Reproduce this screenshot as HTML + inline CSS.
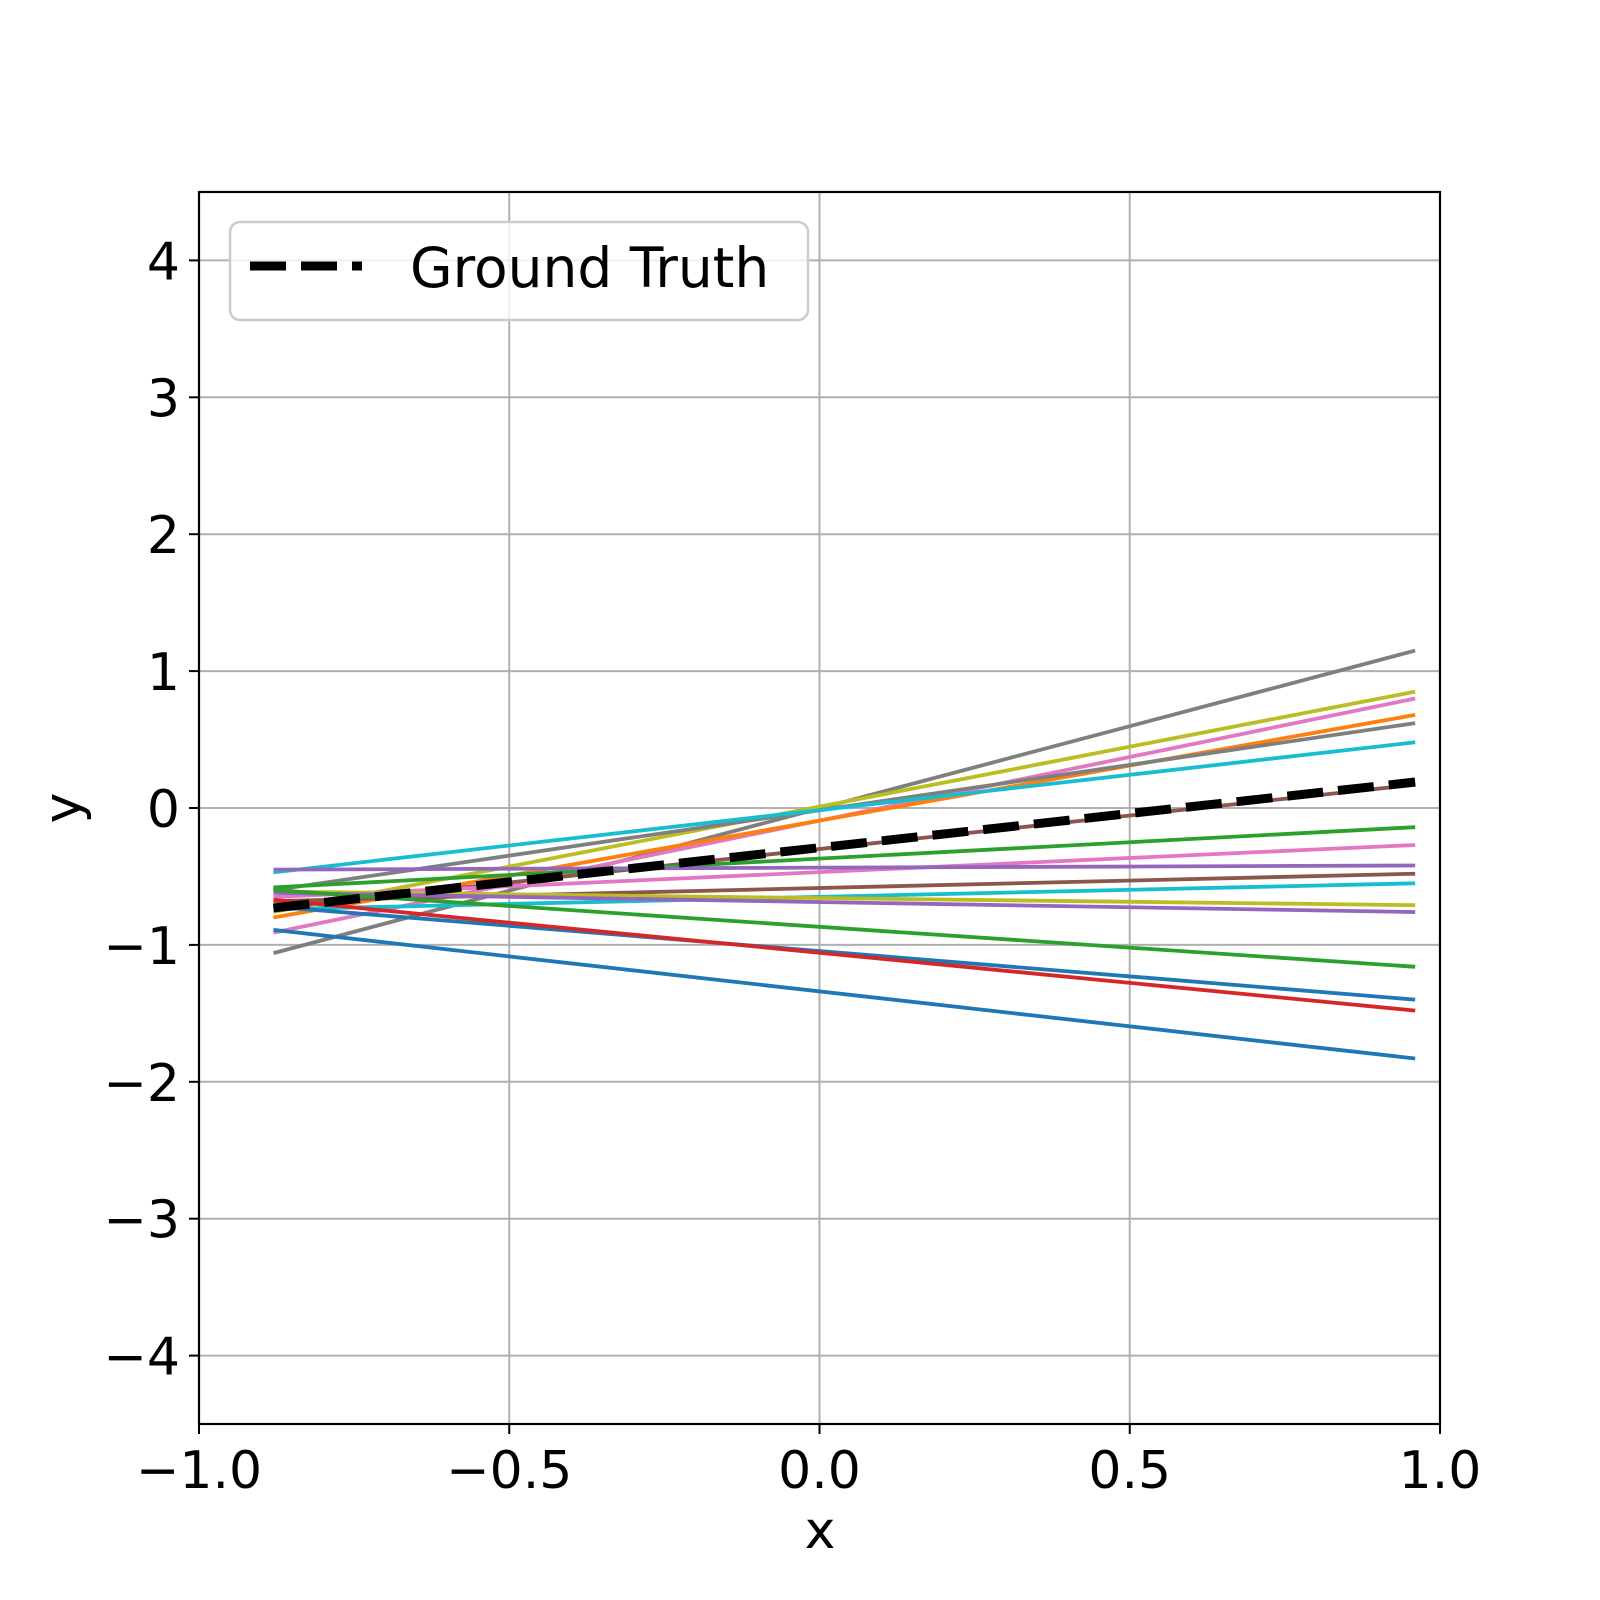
<!DOCTYPE html>
<html><head><meta charset="utf-8"><style>body{margin:0;background:#fff}svg{display:block}</style></head>
<body>
<svg id="chart" width="1600" height="1600" viewBox="0 0 1600 1600" xmlns="http://www.w3.org/2000/svg" font-family="'DejaVu Sans','Liberation Sans',sans-serif">
<g id="grid"></g>
<g id="series"></g>
<rect x="199" y="192" width="1241" height="1232" fill="none" stroke="#000" stroke-width="2.2"/>
<g id="ticks"></g>
<text x="820" y="1548" font-size="52" text-anchor="middle">x</text>
<text transform="translate(80,808) rotate(-90)" font-size="52" text-anchor="middle">y</text>
<g>
<rect x="230" y="222" width="578" height="98" rx="10" fill="#fff" fill-opacity="0.8" stroke="#ccc" stroke-width="2.5"/>
<line x1="250" y1="266" x2="362" y2="266" stroke="#000" stroke-width="9" stroke-dasharray="36,15"/>
<text x="410" y="287" font-size="55">Ground Truth</text>
</g>
</svg>
<script>
const xTicks=[-1.0,-0.5,0.0,0.5,1.0];
const xTickLabels=["−1.0","−0.5","0.0","0.5","1.0"];
const yTicks=[-4,-3,-2,-1,0,1,2,3,4];
const yTickLabels=["−4","−3","−2","−1","0","1","2","3","4"];
const xStart=-0.88, xEnd=0.96;
const lineColors=["#7f7f7f","#bcbd22","#e377c2","#ff7f0e","#7f7f7f","#17becf","#8c564b","#2ca02c","#e377c2","#9467bd","#8c564b","#17becf","#bcbd22","#9467bd","#2ca02c","#1f77b4","#d62728","#1f77b4"];
const lineStartY=[-1.06,-0.76,-0.91,-0.80,-0.60,-0.47,-0.73,-0.58,-0.65,-0.45,-0.68,-0.74,-0.61,-0.62,-0.60,-0.72,-0.67,-0.89];
const lineEndY=[1.15,0.85,0.80,0.68,0.62,0.48,0.17,-0.14,-0.27,-0.42,-0.48,-0.55,-0.71,-0.76,-1.16,-1.40,-1.48,-1.83];
const truthStartY=-0.73, truthEndY=0.19;
const X=v=>199+(v+1)/2*1241;
const Y=v=>808-v*136.9;
const NS="http://www.w3.org/2000/svg";
function mk(tag,attrs,parent){const e=document.createElementNS(NS,tag);for(const k in attrs)e.setAttribute(k,attrs[k]);parent.appendChild(e);return e;}
const grid=document.getElementById('grid'),ticks=document.getElementById('ticks'),series=document.getElementById('series');
xTicks.forEach((t,i)=>{
 const g=mk('line',{x1:X(t),x2:X(t),y1:192,y2:1424,stroke:'#b0b0b0','stroke-width':2},grid);
 
 
 const tk=mk('line',{x1:X(t),x2:X(t),y1:1424,y2:1434,stroke:'#000','stroke-width':2},ticks);
 
 
 const tl=mk('text',{x:X(t),y:1488,'font-size':52,'text-anchor':'middle'},ticks);
 
 
 tl.textContent=xTickLabels[i];
});
yTicks.forEach((t,i)=>{
 const g=mk('line',{x1:199,x2:1440,y1:Y(t),y2:Y(t),stroke:'#b0b0b0','stroke-width':2},grid);
 
 
 const tk=mk('line',{x1:189,x2:199,y1:Y(t),y2:Y(t),stroke:'#000','stroke-width':2},ticks);
 
 
 const tl=mk('text',{x:180,y:Y(t)+19,'font-size':52,'text-anchor':'end'},ticks);
 
 
 tl.textContent=yTickLabels[i];
});
lineColors.forEach((c,i)=>{
 const l=mk('line',{x1:X(xStart),y1:Y(lineStartY[i]),x2:X(xEnd),y2:Y(lineEndY[i]),stroke:c,'stroke-width':3.8},series);
 
 
});
const gt=mk('line',{x1:X(xStart),y1:Y(truthStartY),x2:X(xEnd),y2:Y(truthEndY),stroke:'#000','stroke-width':9,'stroke-dasharray':'36,15'},series);


</script>
</body></html>
